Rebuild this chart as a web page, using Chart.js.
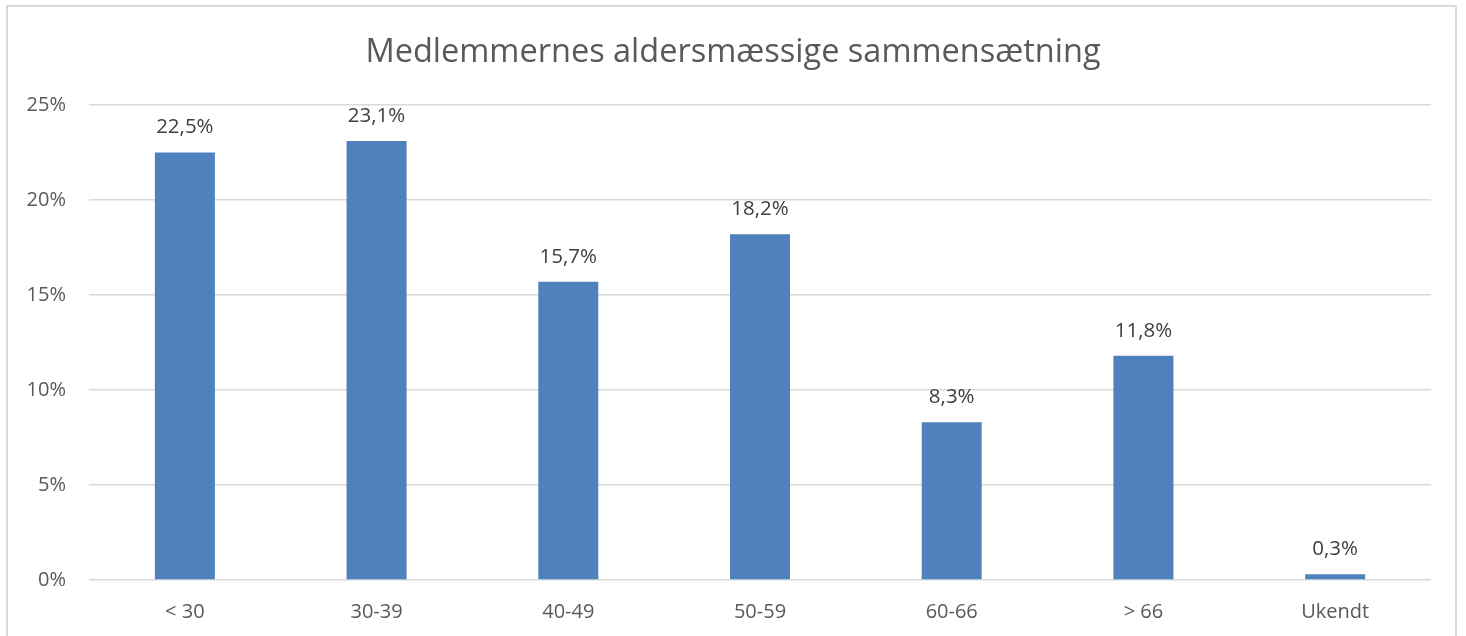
<!DOCTYPE html>
<html>
<head>
<meta charset="utf-8">
<script src="https://cdn.jsdelivr.net/npm/chart.js@4/dist/chart.umd.min.js"></script>
<style>
  html, body { margin: 0; padding: 0; background: #fff; overflow: hidden; }
  #frame {
    position: absolute; left: 6px; top: 5px; width: 1451px; height: 700px;
    border: 2px solid #d9d9d9; box-sizing: border-box;
  }
  #wrap { position: absolute; left: 0; top: 0; width: 1466px; height: 636px; }
</style>
</head>
<body>
<div id="frame"></div>
<div id="wrap"><canvas id="chart"></canvas></div>
<script>
  // data
  const categories = ["< 30", "30-39", "40-49", "50-59", "60-66", "> 66", "Ukendt"];
  const shares = [22.5, 23.1, 15.7, 18.2, 8.3, 11.8, 0.3];
  const yTicks = [0, 5, 10, 15, 20, 25];
  const titleText = "Medlemmernes aldersmæssige sammensætning";

  const FONT = "'Open Sans', 'Noto Sans', sans-serif";
  const pct = (v) => v.toFixed(1).replace(".", ",") + "%";

  // title centred on the whole canvas (not on the plot)
  const pageTitle = {
    id: "pageTitle",
    afterDraw(chart) {
      const { ctx } = chart;
      ctx.save();
      ctx.font = "32.5px " + FONT;
      ctx.fillStyle = "#595959";
      ctx.textAlign = "center";
      ctx.textBaseline = "alphabetic";
      ctx.fillText(titleText, chart.width / 2, 62);
      ctx.restore();
    }
  };

  // labels above each bar
  const barLabels = {
    id: "barLabels",
    afterDatasetsDraw(chart) {
      const { ctx } = chart;
      const meta = chart.getDatasetMeta(0);
      ctx.save();
      ctx.font = "20.5px " + FONT;
      ctx.fillStyle = "#404040";
      ctx.textAlign = "center";
      ctx.textBaseline = "middle";
      meta.data.forEach((bar, i) => {
        ctx.fillText(pct(shares[i]), bar.x, bar.y - 25);
      });
      ctx.restore();
    }
  };

  new Chart(document.getElementById("chart"), {
    type: "bar",
    data: {
      labels: categories,
      datasets: [{
        data: shares,
        backgroundColor: "#4f81bd",
        borderWidth: 0,
        barPercentage: 1,
        categoryPercentage: 0.313
      }]
    },
    options: {
      responsive: true,
      maintainAspectRatio: false,
      animation: false,
      layout: { padding: { left: 0, right: 35, top: 105, bottom: 0 } },
      plugins: {
        legend: { display: false },
        tooltip: { enabled: false },
        title: { display: false }
      },
      scales: {
        x: {
          grid: { display: false, drawTicks: false },
          border: { display: false },
          ticks: {
            color: "#595959",
            font: { family: FONT, size: 20 },
            padding: 20
          },
          afterFit: (s) => { s.height = 56; }
        },
        y: {
          min: 0,
          max: 25,
          afterBuildTicks: (s) => { s.ticks = yTicks.map((v) => ({ value: v })); },
          grid: { color: "#d9d9d9", lineWidth: 1.5, drawTicks: false },
          border: { display: false },
          ticks: {
            color: "#595959",
            font: { family: FONT, size: 20 },
            padding: 23,
            callback: (v) => v + "%"
          },
          afterFit: (s) => { s.width = 89; }
        }
      }
    },
    plugins: [barLabels, pageTitle]
  });
</script>
</body>
</html>
